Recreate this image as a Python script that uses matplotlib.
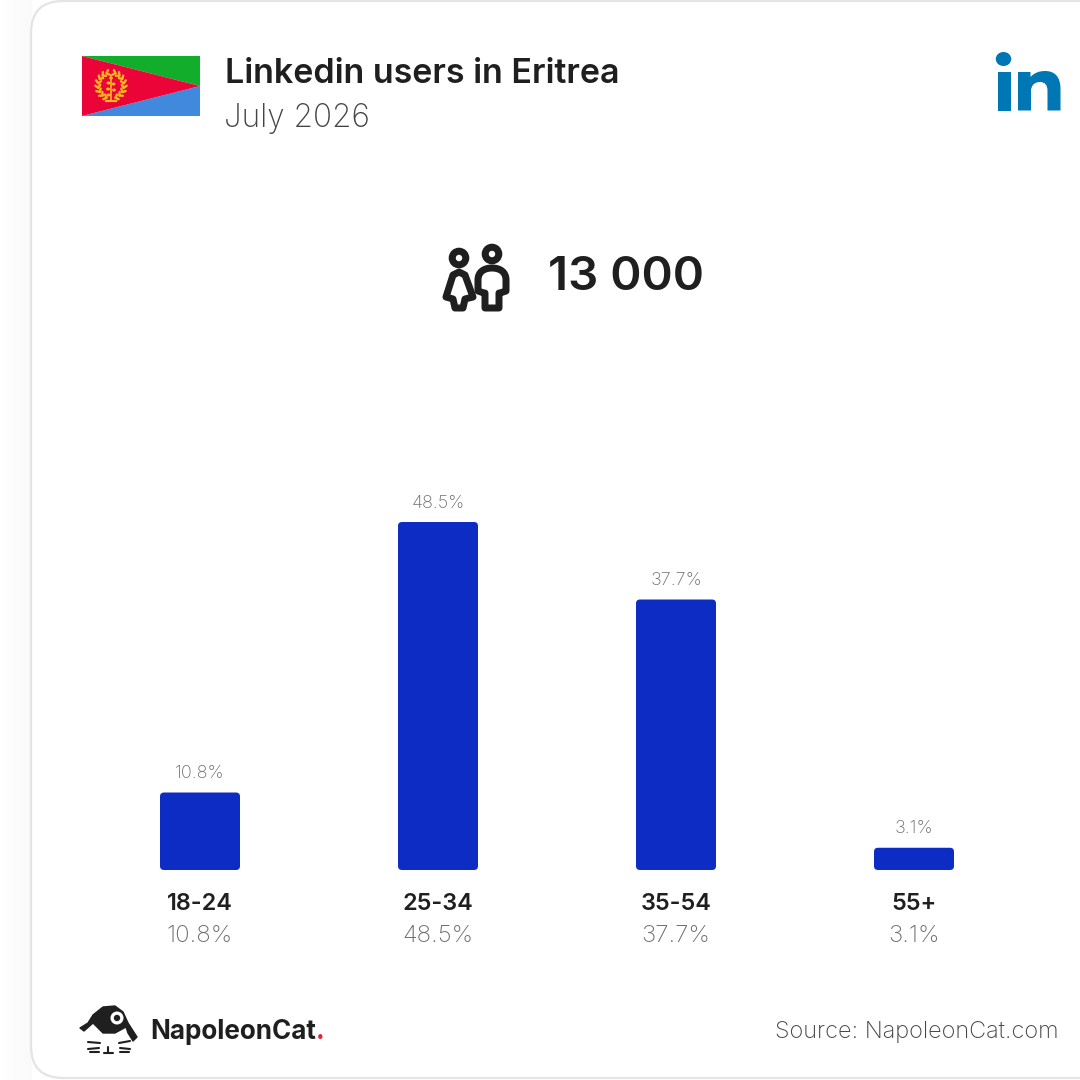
import numpy as np
import matplotlib
matplotlib.use("Agg")
import matplotlib.pyplot as plt
from matplotlib.patches import Circle, Ellipse, FancyBboxPatch, PathPatch, Polygon
from matplotlib.path import Path

# data
age_groups = ["18-24", "25-34", "35-54", "55+"]
shares = [10.8, 48.5, 37.7, 3.1]
title = "Linkedin users in Eritrea"
subtitle = "July 2026"
total_users = "13 000"
source = "Source: NapoleonCat.com"

FONT = "Inter"
DARK = "#1f1f1f"
GREY = "#6e6e6e"
BLUE = "#0d2cc4"


def px(size):
    return size * 0.72


fig = plt.figure(figsize=(10.8, 10.8), dpi=100, facecolor="#ffffff")

# pixel canvas for card, icons and header
bg = fig.add_axes([0, 0, 1, 1])
bg.axis("off")

# soft shadow left of the card
bg.imshow(np.linspace(0, 1, 32).reshape(1, -1), extent=(0, 32, 1080, 0), aspect="auto",
          cmap=matplotlib.colors.LinearSegmentedColormap.from_list("s", ["#ffffff", "#fafafa"]), zorder=0)
bg.set_xlim(0, 1080)
bg.set_ylim(1080, 0)

card = FancyBboxPatch((31, 1), 1200, 1077, boxstyle="round,pad=0,rounding_size=32",
                      fc="white", ec="#e4e4e4", lw=1.6, zorder=1)
bg.add_patch(card)

# flag
bg.add_patch(Polygon([(81, 55), (201, 55), (201, 117), (81, 117)], fc="#fafafa", ec="none", zorder=2))
bg.add_patch(Polygon([(82, 56), (200, 56), (200, 86)], fc="#12ad2b", zorder=3))
bg.add_patch(Polygon([(82, 116), (200, 116), (200, 86)], fc="#4189dd", zorder=3))
bg.add_patch(Polygon([(82, 56), (200, 86), (82, 116)], fc="#ea0437", zorder=3))
GOLD = "#ffb81f"
# wreath leaves
for side in (-1, 1):
    for ang in np.arange(20, 170, 20):
        a = np.radians(ang)
        ux, uy = side * np.sin(a), np.cos(a)
        tx, ty = side * np.cos(a), -np.sin(a)
        cx, cy = 111 + 13 * ux, 85.5 + 13 * uy
        bg.plot([cx, cx + 2.5 * ux + 2.5 * tx], [cy, cy + 2.5 * uy + 2.5 * ty], color=GOLD, lw=1.7,
                solid_capstyle="round", zorder=4)
        bg.plot([cx, cx - 2.5 * ux + 2.5 * tx], [cy, cy - 2.5 * uy + 2.5 * ty], color=GOLD, lw=1.7,
                solid_capstyle="round", zorder=4)
bg.plot([111, 111], [76, 100], color=GOLD, lw=1.2, zorder=4)
bg.plot([106, 116], [101, 101], color=GOLD, lw=1.6, zorder=4)
for yy, dx in [(78, 0), (83, -2.5), (84, 2.5), (89, -3), (90, 3), (95, -2.5)]:
    bg.add_patch(Ellipse((111 + dx, yy), 4, 3, fc=GOLD, ec="none", zorder=4))

bg.text(225, 74, title, fontsize=px(34), fontweight="semibold", color=DARK, family=FONT, va="center", zorder=5)
bg.text(224, 118, subtitle, fontsize=px(31.5), fontweight="light", color="#444444", family=FONT, va="center", zorder=5)

# linkedin mark
LI = "#0077b5"
bg.add_patch(Ellipse((1003.5, 59), 15.5, 14, fc=LI, ec="none", zorder=5))
bg.add_patch(Polygon([(997.5, 72), (1010.5, 72), (1010.5, 110.5), (997.5, 110.5)], fc=LI, ec="none", zorder=5))
n_verts = [(1018, 72), (1030.5, 72), (1030.5, 77), (1034, 73), (1039, 71), (1045, 71),
           (1055, 71), (1060.5, 77), (1060.5, 89), (1060.5, 110.5), (1047.5, 110.5), (1047.5, 91),
           (1047.5, 85), (1045, 82), (1040, 82), (1034, 82), (1031, 86), (1031, 91),
           (1031, 110.5), (1018, 110.5), (1018, 72)]
n_codes = [Path.MOVETO, Path.LINETO, Path.LINETO, Path.CURVE4, Path.CURVE4, Path.CURVE4,
           Path.CURVE4, Path.CURVE4, Path.CURVE4, Path.LINETO, Path.LINETO, Path.LINETO,
           Path.CURVE4, Path.CURVE4, Path.CURVE4, Path.CURVE4, Path.CURVE4, Path.CURVE4,
           Path.LINETO, Path.LINETO, Path.CLOSEPOLY]
bg.add_patch(PathPatch(Path(n_verts, n_codes), fc=LI, ec="none", zorder=5))

# people icon
stroke = dict(fill=False, ec=DARK, lw=px(7), zorder=5, joinstyle="round")
bg.add_patch(Circle((459, 258), 6.8, **stroke))
bg.add_patch(Circle((492, 254), 6.8, **stroke))
woman = [(459, 272), (465, 275), (473, 297), (465, 299), (463, 308), (455, 308), (453, 299), (446, 297), (453, 275)]
bg.add_patch(Polygon(woman, closed=True, **stroke))
man_verts = [(478, 291), (478, 280), (478, 272), (484, 268), (492, 268), (500, 268), (506, 272), (506, 280),
             (506, 291), (500, 293), (499, 293), (499, 308), (485, 308), (485, 293), (484, 293), (478, 291)]
man_codes = [Path.MOVETO, Path.LINETO, Path.CURVE4, Path.CURVE4, Path.CURVE4, Path.CURVE4, Path.CURVE4, Path.CURVE4,
             Path.LINETO, Path.LINETO, Path.LINETO, Path.LINETO, Path.LINETO, Path.LINETO, Path.LINETO, Path.CLOSEPOLY]
bg.add_patch(PathPatch(Path(man_verts, man_codes), **stroke))

bg.text(548, 278, total_users, fontsize=px(47.5), fontweight="semibold", color=DARK, family=FONT, va="center", zorder=5)

# cat logo
cat = [(80, 1028), (88, 1023), (93, 1015), (103, 1007), (115, 1006), (123, 1012), (128, 1023),
       (137, 1037), (133, 1041), (128, 1033), (126, 1027), (115, 1033), (103, 1033), (97, 1027), (93, 1023), (84, 1031)]
bg.add_patch(Polygon(cat, closed=True, fc=DARK, ec=DARK, lw=1, joinstyle="round", zorder=5))
bg.add_patch(Circle((117, 1018), 6.5, fc="white", ec="none", zorder=6))
bg.add_patch(Circle((117, 1018), 3.2, fc=DARK, ec="none", zorder=7))
for x0, y0, x1, y1 in [(88, 1042, 100, 1043), (88, 1049, 99, 1048), (90, 1052, 99, 1052),
                       (119, 1043, 130, 1041), (120, 1048, 130, 1049), (120, 1052, 129, 1052),
                       (108, 1047, 108, 1053), (104, 1053, 113, 1053)]:
    bg.plot([x0, x1], [y0, y1], color=DARK, lw=1.5, solid_capstyle="round", zorder=5)

bg.text(150, 1032, "NapoleonCat", fontsize=px(26), fontweight="bold", color=DARK, family=FONT, va="center", zorder=5)
bg.text(316, 1032, ".", fontsize=px(26), fontweight="bold", color="#e8232e", family=FONT, va="center", zorder=5)
bg.text(1059, 1032, source, fontsize=px(23.5), fontweight="light", color="#444444", family=FONT, va="center", ha="right", zorder=5)

# bar chart axes: category spacing 238 px, 7.175 px per percent
left = 81
right = 1033
base_y = 870
top_val = 50
top_y = base_y - top_val * 7.175
ax = fig.add_axes([left / 1080, 1 - base_y / 1080, (right - left) / 1080, (base_y - top_y) / 1080])
ax.patch.set_alpha(0)
ax.set_xlim(-0.5, 3.5)
ax.set_ylim(0, top_val)
ax.axis("off")
x = np.arange(len(age_groups))
bar_w = 80 / 238
bars = ax.bar(x, shares, width=bar_w, color=BLUE)
aspect = 7.175 / 238
for b, val, xi, name in zip(bars, shares, x, age_groups):
    b.set_visible(False)
    r = 4 / 238
    ax.add_patch(FancyBboxPatch((b.get_x(), 0), b.get_width(), val, boxstyle=f"round,pad=0,rounding_size={r}",
                                mutation_aspect=1 / aspect, fc=BLUE, ec="none"))
    ax.annotate(f"{val}%", (xi, val), xytext=(0, 19 * 0.72), textcoords="offset points", ha="center", va="center",
                fontsize=px(18), fontweight="light", color=GREY, family=FONT)
    ax.annotate(name, (xi, 0), xytext=(0, -34 * 0.72), textcoords="offset points", ha="center", va="center",
                fontsize=px(23.5), fontweight="semibold", color=DARK, family=FONT, annotation_clip=False)
    ax.annotate(f"{val}%", (xi, 0), xytext=(0, -66 * 0.72), textcoords="offset points", ha="center", va="center",
                fontsize=px(24), fontweight="light", color=GREY, family=FONT, annotation_clip=False)

fig.savefig("out.png", dpi=100)
